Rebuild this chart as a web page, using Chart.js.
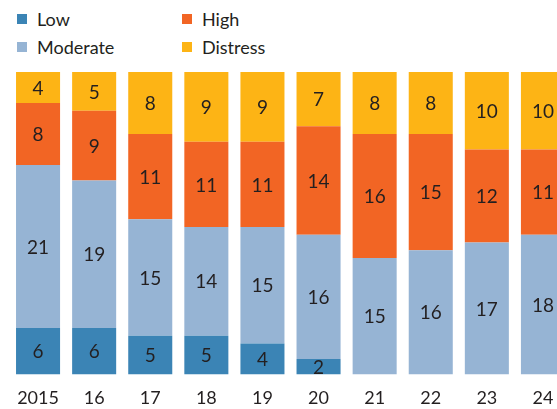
<!DOCTYPE html>
<html lang="en">

<head>
    <meta charset="UTF-8">
    <meta name="viewport" content="width=device-width, initial-scale=1.0">
    <script src="https://cdn.jsdelivr.net/npm/chart.js"></script>
    <title>Distress levels</title>
    <style>
        html, body {
            margin: 0;
            padding: 0;
            background: #ffffff;
            overflow: hidden;
            font-family: Lato, "Open Sans", sans-serif;
        }

        .legenda {
            position: absolute;
            left: 17px;
            top: 5px;
            display: grid;
            grid-template-rows: 28px 28px;
            grid-auto-flow: column;
            grid-template-columns: 165px 160px;
            font-size: 18px;
            color: #231f20;
        }

        .legenda div {
            display: flex;
            align-items: center;
        }

        .legenda span.cor {
            display: inline-block;
            width: 10px;
            height: 10px;
            margin-right: 10px;
        }

        .grafico {
            position: absolute;
            left: 0;
            top: 0;
            width: 580px;
            height: 422px;
        }
    </style>
</head>

<body>
    <div class="legenda" id="legenda"></div>
    <div class="grafico">
        <canvas id="myChartCanvas"></canvas>
    </div>
</body>

</html>

<script>
    // anos no eixo x
    const anos = ['2015', '16', '17', '18', '19', '20', '21', '22', '23', '24'];

    // valores de cada faixa, de baixo para cima
    const low = [6, 6, 5, 5, 4, 2, 0, 0, 0, 0];
    const moderate = [21, 19, 15, 14, 15, 16, 15, 16, 17, 18];
    const high = [8, 9, 11, 11, 11, 14, 16, 15, 12, 11];
    const distress = [4, 5, 8, 9, 9, 7, 8, 8, 10, 10];

    const corTexto = '#231f20';

    // escreve o valor no meio de cada segmento
    const rotulos = {
        id: 'rotulos',
        afterDatasetsDraw(chart) {
            const ctx = chart.ctx;
            ctx.save();
            ctx.font = '19px Lato';
            ctx.fillStyle = corTexto;
            ctx.textAlign = 'center';
            ctx.textBaseline = 'middle';
            chart.data.datasets.forEach(function (ds, i) {
                const meta = chart.getDatasetMeta(i);
                meta.data.forEach(function (bar, j) {
                    const v = ds.data[j];
                    if (!v) return;
                    const meio = (bar.y + bar.base) / 2;
                    ctx.fillText(String(v), bar.x, meio + 1);
                });
            });
            ctx.restore();
        }
    };

    let dados = {
        labels: anos,
        datasets: [
            { label: 'Low', data: low, backgroundColor: '#3b84b5' },
            { label: 'Moderate', data: moderate, backgroundColor: '#96b4d4' },
            { label: 'High', data: high, backgroundColor: '#f26524' },
            { label: 'Distress', data: distress, backgroundColor: '#fdb415' }
        ]
    };

    const config = {
        type: 'bar',
        data: dados,
        options: {
            responsive: true,
            maintainAspectRatio: false,
            animation: false,
            layout: {
                padding: { left: 10, right: 9, top: 72, bottom: 0 }
            },
            datasets: {
                bar: { categoryPercentage: 1, barPercentage: 0.785 }
            },
            plugins: {
                legend: { display: false },
                tooltip: { enabled: false }
            },
            scales: {
                x: {
                    stacked: true,
                    grid: { display: false, drawTicks: false },
                    border: { display: false },
                    ticks: {
                        color: corTexto,
                        padding: 13,
                        font: { family: 'Lato', size: 18 }
                    }
                },
                y: {
                    stacked: true,
                    display: false,
                    min: 0,
                    max: 39
                }
            }
        },
        plugins: [rotulos]
    };

    let myChart = new Chart(document.getElementById('myChartCanvas'), config);

    // legenda em duas colunas
    const legenda = document.getElementById('legenda');
    dados.datasets.forEach(function (ds) {
        const item = document.createElement('div');
        item.innerHTML = `<span class="cor" style="background:${ds.backgroundColor}"></span>${ds.label}`;
        legenda.appendChild(item);
    });
</script>
